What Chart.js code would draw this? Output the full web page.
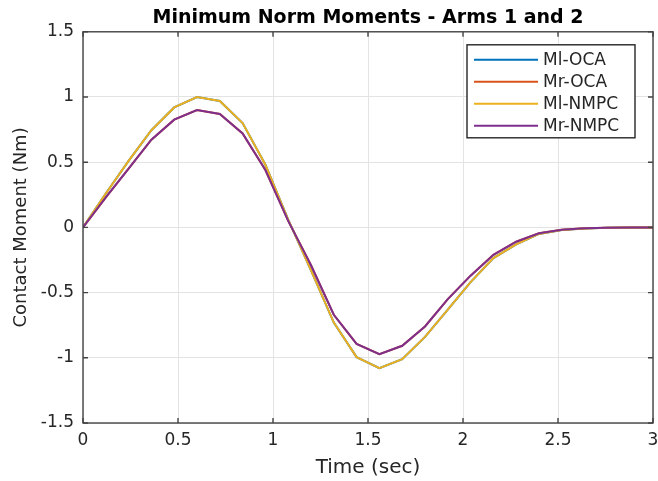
<!DOCTYPE html>
<html>
<head>
<meta charset="utf-8">
<script src="https://cdn.jsdelivr.net/npm/chart.js@4.4.0/dist/chart.umd.min.js"></script>
<style>
  html, body { margin: 0; padding: 0; background: #fff; }
  #wrap { width: 658px; height: 481px; }
</style>
</head>
<body>
<div id="wrap"><canvas id="chart"></canvas></div>
<script>
// sample times (sec)
const timeSec = [0, 0.12, 0.24, 0.36, 0.48, 0.60, 0.72, 0.84, 0.96, 1.08, 1.20, 1.32, 1.44,
                 1.56, 1.68, 1.80, 1.92, 2.04, 2.16, 2.28, 2.40, 2.52, 2.64, 2.76, 2.88, 3.00];

// moments (Nm) - the OCA curves sit right under the NMPC ones
const mlOca  = [0, 0.26, 0.51, 0.745, 0.92, 1.0, 0.97, 0.80, 0.48, 0.06, -0.33, -0.73, -0.995,
                -1.08, -1.01, -0.84, -0.63, -0.42, -0.235, -0.13, -0.05, -0.02, -0.008, -0.003, -0.001, 0];
const mrOca  = [0, 0.23, 0.45, 0.673, 0.826, 0.90, 0.87, 0.72, 0.44, 0.05, -0.29, -0.67, -0.893,
                -0.972, -0.908, -0.76, -0.55, -0.37, -0.21, -0.11, -0.045, -0.018, -0.007, -0.003, -0.001, 0];
const mlNmpc = [0, 0.26, 0.51, 0.745, 0.92, 1.0, 0.97, 0.80, 0.48, 0.06, -0.33, -0.73, -0.995,
                -1.08, -1.01, -0.84, -0.63, -0.42, -0.235, -0.13, -0.05, -0.02, -0.008, -0.003, -0.001, 0];
const mrNmpc = [0, 0.23, 0.45, 0.673, 0.826, 0.90, 0.87, 0.72, 0.44, 0.05, -0.29, -0.67, -0.893,
                -0.972, -0.908, -0.76, -0.55, -0.37, -0.21, -0.11, -0.045, -0.018, -0.007, -0.003, -0.001, 0];

const seriesNames = ['Ml-OCA', 'Mr-OCA', 'Ml-NMPC', 'Mr-NMPC'];
const seriesColors = ['#0072BD', '#D95319', '#EDB120', '#7E2F8E'];

const FONT = '"DejaVu Sans", Arial, sans-serif';
const TEXT = '#262626';

function toPoints(vals) {
    return vals.map((v, i) => ({ x: timeSec[i], y: v }));
}

function tickLabel(v) {
    return String(Math.round(v * 10) / 10);
}

// MATLAB-style box, inward ticks and legend
const axesBox = {
    id: 'axesBox',
    afterDraw(chart) {
        const { ctx, chartArea: a, scales } = chart;
        ctx.save();
        ctx.strokeStyle = '#444';
        ctx.lineWidth = 1.4;
        ctx.strokeRect(a.left, a.top, a.right - a.left, a.bottom - a.top);

        const len = 5;
        ctx.beginPath();
        scales.x.ticks.forEach(t => {
            const px = scales.x.getPixelForValue(t.value);
            ctx.moveTo(px, a.bottom); ctx.lineTo(px, a.bottom - len);
            ctx.moveTo(px, a.top); ctx.lineTo(px, a.top + len);
        });
        scales.y.ticks.forEach(t => {
            const py = scales.y.getPixelForValue(t.value);
            ctx.moveTo(a.left, py); ctx.lineTo(a.left + len, py);
            ctx.moveTo(a.right, py); ctx.lineTo(a.right - len, py);
        });
        ctx.stroke();

        // legend box
        const bx = a.right - 186, by = a.top + 13, bw = 168, bh = 93;
        ctx.fillStyle = '#fff';
        ctx.fillRect(bx, by, bw, bh);
        ctx.strokeStyle = '#262626';
        ctx.lineWidth = 1.4;
        ctx.strokeRect(bx, by, bw, bh);
        ctx.font = '17px ' + FONT;
        ctx.textBaseline = 'middle';
        ctx.textAlign = 'left';
        chart.data.datasets.forEach((ds, i) => {
            const y = by + 15 + i * 22;
            ctx.strokeStyle = ds.borderColor;
            ctx.lineWidth = 2;
            ctx.beginPath();
            ctx.moveTo(bx + 7, y);
            ctx.lineTo(bx + 71, y);
            ctx.stroke();
            ctx.fillStyle = TEXT;
            ctx.fillText(ds.label, bx + 76, y + 1);
        });
        ctx.restore();
    }
};

const allSeries = [mlOca, mrOca, mlNmpc, mrNmpc];

new Chart(document.getElementById('chart'), {
    type: 'line',
    data: {
        datasets: allSeries.map((vals, i) => ({
            label: seriesNames[i],
            data: toPoints(vals),
            borderColor: seriesColors[i],
            backgroundColor: seriesColors[i],
            borderWidth: 2,
            pointRadius: 0,
            tension: 0,
            fill: false,
            order: 3 - i
        }))
    },
    options: {
        responsive: true,
        maintainAspectRatio: false,
        animation: false,
        layout: { padding: { left: 0, right: 5, top: 0, bottom: 0 } },
        scales: {
            x: {
                type: 'linear',
                min: 0,
                max: 3,
                afterFit: s => { s.height = 58; s.paddingRight = 0; s.paddingLeft = 0; },
                ticks: { stepSize: 0.5, padding: 7, color: TEXT, callback: tickLabel,
                         font: { family: FONT, size: 17 } },
                grid: { color: '#e3e3e3', drawTicks: false },
                border: { display: false },
                title: { display: true, text: 'Time (sec)', color: TEXT,
                         font: { family: FONT, size: 20 }, padding: { top: 0, bottom: 1 } }
            },
            y: {
                min: -1.5,
                max: 1.5,
                afterFit: s => { s.width = 83; },
                ticks: { stepSize: 0.5, padding: 9, color: TEXT, callback: tickLabel,
                         font: { family: FONT, size: 17 } },
                grid: { color: '#e3e3e3', drawTicks: false },
                border: { display: false },
                title: { display: true, text: 'Contact Moment (Nm)', color: TEXT,
                         font: { family: FONT, size: 18 }, padding: { top: 11, bottom: 0 } }
            }
        },
        plugins: {
            legend: { display: false },
            tooltip: { enabled: false },
            title: {
                display: true,
                fullSize: false,
                text: 'Minimum Norm Moments - Arms 1 and 2',
                color: '#000',
                font: { family: FONT, size: 19, weight: 'bold' },
                padding: { top: 7, bottom: 2 }
            }
        }
    },
    plugins: [axesBox]
});
</script>
</body>
</html>
